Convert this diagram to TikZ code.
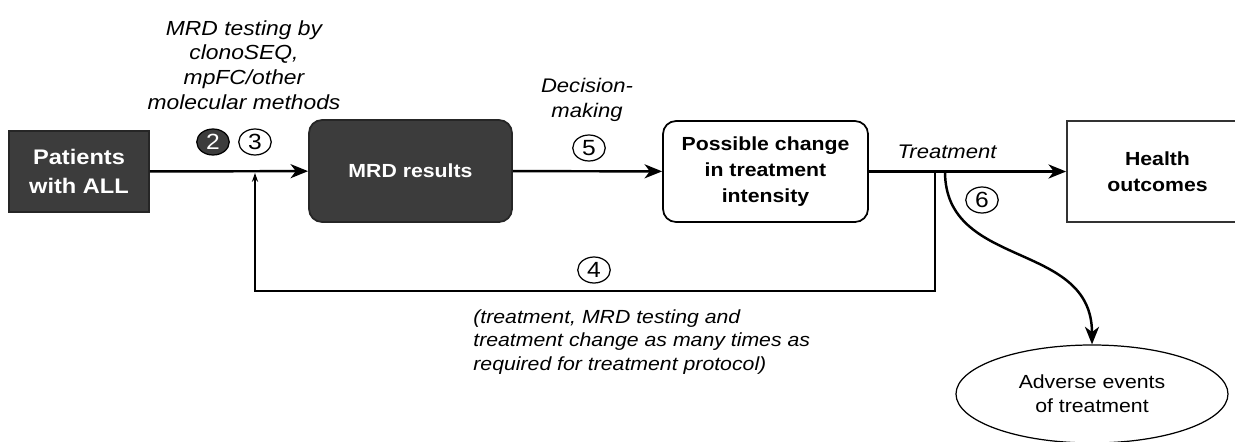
\documentclass[tikz,border=0pt]{standalone}
\usepackage{fontspec}
\setmainfont{Liberation Sans}[FakeStretch=1.12]
\usetikzlibrary{arrows.meta,shapes.geometric}

\definecolor{boxdark}{HTML}{3C3C3C}

\begin{document}
\begin{tikzpicture}[
		txt/.style={font=\fontsize{10.8}{13.8}\selectfont, align=center, inner sep=0pt},
		boxlbl/.style={font=\fontsize{10.8}{14.8}\selectfont\bfseries, align=center},
		darkbox/.style={boxlbl, draw=black!85, fill=boxdark, text=white, line width=1pt},
		numcirc/.style={ellipse, draw, line width=0.7pt, inner sep=0pt, minimum width=0.65cm, minimum height=0.52cm, font=\fontsize{12.5}{13}\selectfont},
		mainline/.style={line width=1.4pt, -{Stealth[length=10pt,width=8pt,inset=3pt]}},
	]
				\useasboundingbox (0,0) rectangle (24.7,8.82);
				
				% boxes along the main line
				\node[darkbox, minimum width=2.8cm, minimum height=1.62cm, font=\fontsize{12}{16.5}\selectfont\bfseries] (Patients) at (1.58,5.39) {Patients\\with ALL};
				\node[darkbox, rounded corners=0.26cm, minimum width=4.06cm, minimum height=2.04cm] (MRDRes) at (8.21,5.40) {MRD results};
				\node[boxlbl, draw, line width=1pt, rounded corners=0.26cm, minimum width=4.1cm, minimum height=2.02cm] (Change) at (15.31,5.39) {Possible change\\in treatment\\intensity};
				\node[boxlbl, draw=black!80, line width=1pt, minimum width=3.62cm, minimum height=2.02cm] (Health) at (23.15,5.39) {Health\\outcomes};
				\node[ellipse, draw, line width=0.7pt, inner sep=0pt, minimum width=5.44cm, minimum height=1.96cm, font=\fontsize{10.8}{13.8}\selectfont, align=center] (Adverse) at (21.84,0.94) {Adverse events\\of treatment};
				
				% labels
				\node[txt, font=\fontsize{11.6}{14}\selectfont\itshape] (lblTest) at (4.88,7.52) {MRD testing by\\clonoSEQ,\\mpFC/other\\molecular methods};
				\node[txt, font=\fontsize{11.2}{13.9}\selectfont\itshape] (lblDec) at (11.74,6.82) {Decision-\\making};
				\node[txt, font=\fontsize{11.2}{13.9}\selectfont\itshape] (lblTreat) at (18.94,5.78) {Treatment};
				\node[txt, font=\fontsize{10.8}{13.6}\selectfont\itshape, align=left, anchor=west] (lblLoop) at (9.46,1.98) {(treatment, MRD testing and\\treatment change as many times as\\required for treatment protocol)};
				
				% numbered steps
				\node[numcirc, fill=boxdark, text=white] (Step2) at (4.26,5.98) {2};
				\node[numcirc] (Step3) at (5.10,5.98) {3};
				\node[numcirc] (Step4) at (11.88,3.42) {4};
				\node[numcirc] (Step5) at (11.78,5.86) {5};
				\node[numcirc] (Step6) at (19.64,4.82) {6};
				
				% main flow
				\draw[mainline] (Patients) -- (MRDRes);
				\draw[mainline] (MRDRes) -- (Change);
				\draw[mainline] (Change) -- (Health);
				
				% loop back
				\coordinate (fbTop) at (18.70,5.39);
				\coordinate (fbBottom) at (18.70,3.0);
				\coordinate (fbEnd) at (5.10,5.36);
				\draw[line width=0.8pt, -{Stealth[length=5pt,width=3.5pt]}] (fbTop) -- (fbBottom) -| (fbEnd);
				
				% side effects
				\coordinate (aeStart) at (18.90,5.39);
				\draw[line width=1.4pt, -{Stealth[length=10pt,width=8pt,inset=3pt]}] (aeStart) .. controls (18.90,3.42) and (21.84,4.02) .. (Adverse.north);
				
			\end{tikzpicture}
\end{document}
